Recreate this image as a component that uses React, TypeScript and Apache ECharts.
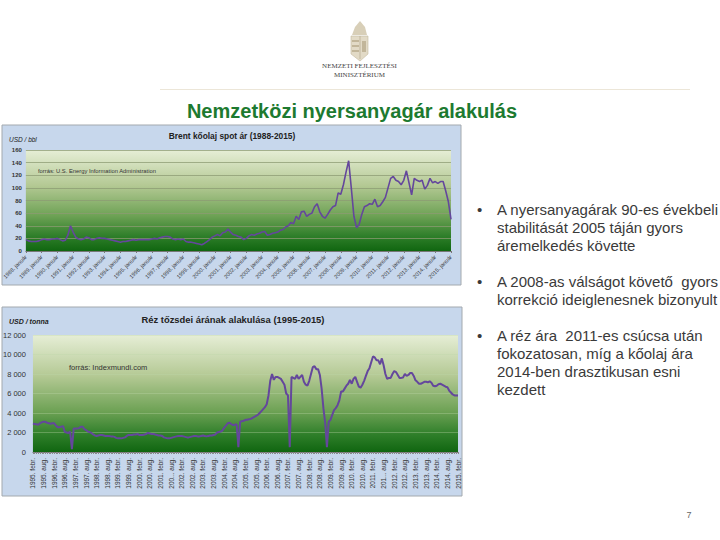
import React, { useEffect, useRef } from "react";
import * as echarts from "echarts";

const brentYears = [1988,1989,1990,1991,1992,1993,1994,1995,1996,1997,1998,1999,2000,2001,2002,2003,2004,2005,2006,2007,2008,2009,2010,2011,2012,2013,2014,2015];
const brentValues = [
  18,16,15,15,15,16,
  18,19,18,18,19,19,
  20,18,16,17,25,40,
  30,22,19,18,19,22,
  21,18,18,20,21,20,
  20,19,18,17,16,15,
  14,15,15,16,17,18,
  17,18,18,18,18,18,
  19,20,19,21,22,23,
  23,22,19,18,19,18,
  19,15,14,14,13,12,
  11,10,12,15,18,22,
  24,26,24,29,30,35,
  30,26,25,23,22,18,
  20,24,26,25,27,28,
  30,31,25,26,28,29,
  30,33,34,38,40,45,
  43,55,50,62,63,55,
  58,60,70,75,62,55,
  52,58,65,70,72,92,
  90,105,125,143,100,55,
  37,42,58,70,72,75,
  74,82,70,72,78,85,
  100,115,118,112,110,105,
  112,127,108,89,115,112,
  110,112,98,104,115,108,
  110,107,110,110,95,78,
  50,
];
const brentTicks = [0,20,40,60,80,100,120,140,160];

const copperTickLabels = [
  "1995. febr.","1995. aug.","1996. febr.","1996. aug.","1997. febr.","1997. aug.","1998. febr.","1998. aug.","1999. febr.","1999. aug.",
  "2000. febr.","2000. aug.","2001. febr.","200... aug.","2002. febr.","2002. aug.","2003. febr.","2003. aug.","2004. febr.","2004. aug.",
  "2005. febr.","2005. aug.","2006. febr.","2006. aug.","2007. febr.","2007. aug.","2008. febr.","2008. aug.","2009. febr.","2009. aug.",
  "2010. febr.","2010. aug.","2011. febr.","201... aug.","2012. febr.","2012. aug.","2013. febr.","2013. aug.","2014. febr.","2014. aug.","2015. febr.",
];
const copperValues = [
  2900,2880,2850,2800,2950,3050,
  3100,3100,3000,2950,2900,2950,
  2950,2700,2550,2550,2600,2650,
  2050,2000,1950,2100,300,2400,
  2400,2400,2450,2600,2600,2350,
  2250,2100,2050,1950,1800,1700,
  1650,1700,1750,1750,1700,1650,
  1650,1650,1600,1600,1550,1450,
  1400,1400,1400,1450,1500,1650,
  1750,1750,1750,1800,1800,1850,
  1750,1750,1750,1800,1850,1950,
  1900,1850,1850,1800,1750,1700,
  1700,1650,1500,1450,1400,1400,
  1450,1500,1550,1600,1650,1650,
  1650,1600,1550,1500,1500,1550,
  1600,1650,1650,1600,1600,1650,
  1700,1650,1600,1650,1700,1700,
  1750,1800,2000,2050,2100,2200,
  2500,2700,2950,3000,2850,2750,
  2800,2850,500,3100,3150,3200,
  3300,3300,3350,3400,3500,3600,
  3700,3800,4000,4200,4400,4600,
  4900,5800,7300,8000,7400,7700,
  7700,7600,7500,7200,6900,6000,
  5800,500,7700,7600,7500,7900,
  7500,7700,7900,7200,6900,6800,
  7300,8000,8700,8800,8500,8500,
  7900,6500,4500,3000,500,3100,
  3300,3800,4300,4500,4800,5300,
  6200,6200,6500,6800,7000,7400,
  7000,7500,7700,7200,6700,6600,
  6900,7300,7800,8300,8600,9200,
  9800,9700,9400,9400,9000,9600,
  8900,8000,7500,7600,7600,8000,
  8300,8200,7900,7600,7600,7650,
  8000,7800,7900,8100,8100,7800,
  7350,7200,7000,7000,7100,7200,
  7200,7150,7250,7100,6800,6750,
  6800,6950,7000,6900,6800,6700,
  6650,6300,6100,5900,5800,5800,
  5800,
];

const pageTitle = "Nemzetközi nyersanyagár alakulás";
const brentTitle = "Brent kőolaj spot ár (1988-2015)";
const copperTitle = "Réz tőzsdei árának alakulása (1995-2015)";
const bulletLines = [
  { y: 209, text: "A nyersanyagárak 90-es évekbeli", bullet: true },
  { y: 227, text: "stabilitását 2005 táján gyors", bullet: false },
  { y: 245, text: "áremelkedés követte", bullet: false },
  { y: 281, text: "A 2008-as válságot követő  gyors", bullet: true },
  { y: 299, text: "korrekció ideiglenesnek bizonyult", bullet: false },
  { y: 335, text: "A réz ára  2011-es csúcsa után", bullet: true },
  { y: 353, text: "fokozatosan, míg a kőolaj ára", bullet: false },
  { y: 371, text: "2014-ben drasztikusan esni", bullet: false },
  { y: 389, text: "kezdett", bullet: false },
];

const FONT = "Liberation Sans";
const plotFill = () =>
  new echarts.graphic.LinearGradient(0, 0, 0, 1, [
    { offset: 0, color: "#e6eed6" },
    { offset: 0.35, color: "#b4c994" },
    { offset: 0.65, color: "#6ea255" },
    { offset: 0.85, color: "#2f7f2a" },
    { offset: 1, color: "#106610" },
  ]);

const txt = (x: number, y: number, text: string, font: string, fill: string, extra: any = {}) => ({
  type: "text",
  x,
  y,
  silent: true,
  style: { text, font, fill, verticalAlign: "middle", ...extra },
});

export default function App() {
  const ref = useRef<HTMLDivElement>(null);
  useEffect(() => {
    document.body.style.margin = "0";
    document.body.style.background = "#fff";
    const chart = echarts.init(ref.current!, undefined, { renderer: "svg" });
    const brentCats: string[] = [];
    brentValues.forEach((_, i) => {
      brentCats.push(i % 6 === 0 ? `${brentYears[i / 6]}. január` : "");
    });
    const copperCats: string[] = [];
    copperValues.forEach((_, i) => {
      copperCats.push(i % 6 === 0 ? copperTickLabels[i / 6] : "");
    });

    const graphic: any[] = [
      { type: "rect", z: -10, silent: true, shape: { x: 2, y: 125, width: 459, height: 160 }, style: { fill: "#c7d7ec", stroke: "#a3a9ae", lineWidth: 1 } },
      { type: "rect", z: -10, silent: true, shape: { x: 2, y: 307, width: 460, height: 189 }, style: { fill: "#c7d7ec", stroke: "#a3a9ae", lineWidth: 1 } },
      { type: "line", silent: true, shape: { x1: 160, y1: 89.5, x2: 690, y2: 89.5 }, style: { stroke: "#ece6d8", lineWidth: 1 } },
      { type: "polygon", silent: true, shape: { points: [[351, 36], [368, 36], [368, 54], [360, 61], [351, 54]] }, style: { fill: "#e2dac6", stroke: "#c4baa0", lineWidth: 0.6 } },
      { type: "polygon", silent: true, shape: { points: [[352, 35], [355, 27], [360, 21], [365, 27], [367, 35]] }, style: { fill: "#d8cfb8" } },
      { type: "line", silent: true, shape: { x1: 360, y1: 36, x2: 360, y2: 59 }, style: { stroke: "#b5aa90", lineWidth: 0.7 } },
      { type: "rect", silent: true, shape: { x: 352, y: 40, width: 7, height: 2 }, style: { fill: "#c2b69a" } },
      { type: "rect", silent: true, shape: { x: 352, y: 45, width: 7, height: 2 }, style: { fill: "#c2b69a" } },
      { type: "rect", silent: true, shape: { x: 352, y: 50, width: 7, height: 2 }, style: { fill: "#c2b69a" } },
      { type: "rect", silent: true, shape: { x: 362, y: 41, width: 4, height: 11 }, style: { fill: "#c2b69a" } },
      txt(359.5, 66, "NEMZETI FEJLESZTÉSI", "7px 'Liberation Serif'", "#444", { align: "center" }),
      txt(359.5, 75, "MINISZTÉRIUM", "7px 'Liberation Serif'", "#444", { align: "center" }),
      txt(352, 111, pageTitle, `bold 20px '${FONT}'`, "#1d7a30", { align: "center" }),
      txt(232, 136, brentTitle, `bold 8.4px '${FONT}'`, "#222", { align: "center" }),
      txt(233, 319, copperTitle, `bold 9.4px '${FONT}'`, "#222", { align: "center" }),
      txt(9, 139, "USD / bbl", `italic 6.5px '${FONT}'`, "#222"),
      txt(9, 321, "USD / tonna", `italic bold 7px '${FONT}'`, "#222"),
      txt(38, 171, "forrás: U.S. Energy Information Administration", `5.8px '${FONT}'`, "#333"),
      txt(69, 367, "forrás: Indexmundi.com", `7.5px '${FONT}'`, "#333"),
      txt(689, 515, "7", `9px '${FONT}'`, "#666", { align: "center" }),
    ];
    bulletLines.forEach((l) => {
      if (l.bullet) graphic.push(txt(477, l.y, "•", `15px '${FONT}'`, "#3a3a3a"));
      graphic.push(txt(497, l.y, l.text, `15px '${FONT}'`, "#3a3a3a"));
    });

    const axisText = { color: "#333", fontFamily: FONT };
    chart.setOption({
      animation: false,
      backgroundColor: "#fff",
      graphic,
      grid: [
        { left: 25, right: 269, top: 150, height: 101, show: true, backgroundColor: plotFill(), borderWidth: 0 },
        { left: 31, right: 262, top: 335, height: 117, show: true, backgroundColor: plotFill(), borderWidth: 0 },
      ],
      xAxis: [
        {
          gridIndex: 0,
          type: "category",
          boundaryGap: false,
          data: brentCats,
          axisLine: { lineStyle: { color: "#777" } },
          axisTick: { interval: 5, length: 2, lineStyle: { color: "#777" } },
          axisLabel: { ...axisText, interval: 5, rotate: 45, fontSize: 5.5, margin: 5, showMinLabel: true, showMaxLabel: true },
        },
        {
          gridIndex: 1,
          type: "category",
          boundaryGap: false,
          data: copperCats,
          axisLine: { lineStyle: { color: "#777" } },
          axisTick: { interval: 0, length: 2, lineStyle: { color: "#888" } },
          axisLabel: { ...axisText, interval: 5, rotate: 90, fontSize: 6.5, margin: 6, showMinLabel: true, showMaxLabel: true },
        },
      ],
      yAxis: [
        {
          gridIndex: 0,
          type: "value",
          min: 0,
          max: brentTicks[brentTicks.length - 1],
          interval: 20,
          axisLine: { show: false },
          axisTick: { show: false },
          splitLine: { lineStyle: { color: "rgba(140,155,115,0.75)", width: 1 } },
          axisLabel: { ...axisText, fontSize: 6, fontWeight: "bold", margin: 4 },
        },
        {
          gridIndex: 1,
          type: "value",
          min: 0,
          max: 12000,
          interval: 2000,
          axisLine: { show: false },
          axisTick: { show: false },
          splitLine: { lineStyle: { color: "rgba(190,215,170,0.35)", width: 1 } },
          axisLabel: {
            ...axisText,
            fontSize: 7.5,
            margin: 7,
            formatter: (v: number) => String(v).replace(/(\d)(?=(\d{3})$)/, "$1 "),
          },
        },
      ],
      series: [
        { type: "line", xAxisIndex: 0, yAxisIndex: 0, data: brentValues, symbol: "none", lineStyle: { color: "#64479c", width: 1.6 }, z: 3 },
        { type: "line", xAxisIndex: 1, yAxisIndex: 1, data: copperValues, symbol: "none", lineStyle: { color: "#64479c", width: 2 }, z: 3 },
      ],
    });
    return () => chart.dispose();
  }, []);
  return <div ref={ref} style={{ width: 720, height: 540 }} />;
}
